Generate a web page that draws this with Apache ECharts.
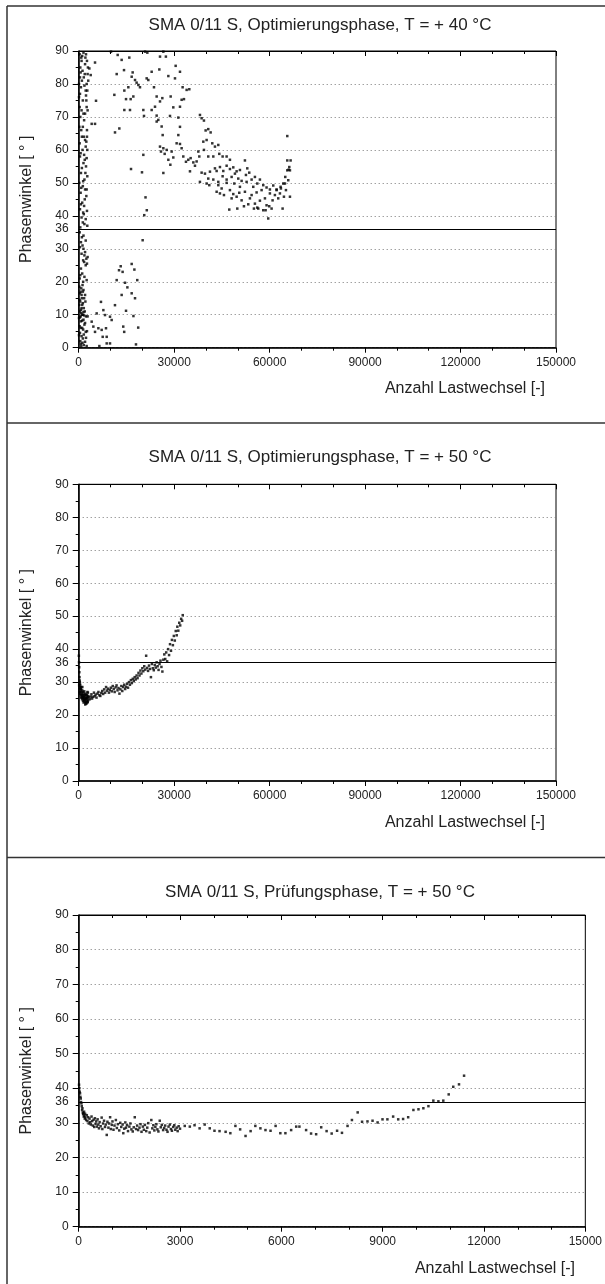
<!DOCTYPE html>
<html><head><meta charset="utf-8">
<script src="https://cdn.jsdelivr.net/npm/echarts@6/dist/echarts.min.js"></script>
<style>html,body{margin:0;padding:0;background:#fff}#c{width:605px;height:1284px}</style>
</head><body><div id="c"></div>
<script>
// ---------- DATA ----------
const titles = [
  'SMA 0/11 S, Optimierungsphase, T = + 40 °C',
  'SMA 0/11 S, Optimierungsphase, T = + 50 °C',
  'SMA 0/11 S, Prüfungsphase, T = + 50 °C'
];
const yAxisName = 'Phasenwinkel [ ° ]';
const xAxisName = 'Anzahl Lastwechsel [-]';
const limitAngle = 36;
const xMax = [150000, 150000, 15000];
const xStep = [30000, 30000, 3000];
const yMax = 90;
const yStep = 10;

// Optimierungsphase, T = +40 °C  [Lastwechsel, Phasenwinkel]
const opt40 = [
  [300,89],[800,88],[1500,89.5],[2300,89],[2600,87],[500,85],[1200,84],[2000,86],[2900,85],[400,82],
  [1600,82],[2500,80],[3000,81],[700,79],[2200,78],[2700,78],[100,76],[1300,75],[300,73],[2500,73],
  [2800,72],[500,70],[1700,69],[200,67],[2600,66],[1000,64],[1600,64],[2600,64],[300,62],[2200,61],
  [1200,60],[2700,60],[400,58],[1900,57],[1500,56],[2300,55],[700,53],[2700,52],[1800,51],[200,50],
  [1300,49],[2000,48],[600,47],[2400,46],[1100,44],[1700,43],[400,42],[1400,41],[1600,40.5],[2200,39],
  [1300,38],[2700,37],[500,36.5],[900,87],[1900,83],[100,80],[2400,75],[1500,71],[800,66],[2000,63],
  [1100,88.5],[2100,88],[600,83.5],[2800,83],[1000,81],[1800,79.5],[400,77],[2300,76.5],[900,72],[2000,71],
  [1300,67],[2400,62.5],[600,59],[1700,58.5],[2500,57.5],[1000,54.5],[2100,53],[1400,50.5],[800,48.5],[2500,48],
  [1900,45],[700,43.5],[2600,41.5],[900,39.5],[1800,37.5],
  [5130,86.5],[5440,74.9],[4080,67.9],[5130,67.9],[3350,84.7],[3770,82.7],
  [1000,33.5],[700,32],[1200,31],[1500,30],[2000,29],[1800,28],[2400,27],[2800,27.5],[2600,25.5],[1700,26],
  [2500,20.5],[500,22],[300,21],[1200,19],[800,18],[1300,17],[400,16.5],[2000,16],[1000,15],[500,14],
  [1300,13.5],[200,13],[900,12],[1600,12],[400,11],[800,10.5],[1000,10],[1300,10],[600,9.5],[2300,9.5],
  [2800,9.5],[100,9],[1500,8.5],[700,8],[1800,7],[300,6.5],[1100,6],[2600,5],[400,4.5],[1600,4],
  [900,3.5],[2300,3],[500,2],[1200,1.5],[2500,0.5],[800,0.5],[1900,11],[2100,14],[600,17],[1400,20],
  [300,35],[1500,34],[2200,32.5],[400,30.5],[900,28.5],[1400,26.5],[2200,25],[700,24],[1100,22.5],[1800,21.5],
  [200,18.5],[1500,17.5],[900,16],[1700,15],[300,14.5],[1100,13],[700,11.5],[1500,10.8],[1700,9.8],[400,9.2],
  [1100,8.2],[2000,7.5],[600,6],[1400,5.5],[2200,4.8],[100,3.8],[1300,2.8],[2000,1.8],[700,1.2],[1600,0.8],
  [7000,13.9],[5650,10.4],[7750,11.4],[8270,9.9],[11400,12.9],[9840,9.4],[10360,8.4],[8580,5.9],[7220,5.4],[6180,5.9],
  [4600,6.4],[4080,7.9],[5130,4.8],[7540,3.3],[8800,3.3],[6490,0.5],[8800,1.3],[9840,1.3],[11940,20.5],[12670,23.5],
  [13200,24.7],[13800,23],[13500,16],[14550,19.7],[15300,18.3],[16650,25.4],[17500,23.7],[18400,20.5],[16650,16.5],[17700,15],
  [14870,11.2],[14000,6.4],[14300,4.8],[17200,9.6],[18700,6.1],[18000,1],[20100,32.6],[21000,45.6],[21400,41.7],[20600,40.2],
  [10150,89.8],[12250,88.8],[13500,87.3],[15900,88],[11940,83],[14240,84.2],[16960,83.5],[16650,82.2],[17700,81.2],[18200,80.4],
  [18740,79.7],[19260,79],[15600,79],[14340,78],[11200,76.7],[14870,75.4],[16330,75.4],[17170,76.2],[14340,72.1],[16120,72.1],
  [11410,65.3],[12770,66.5],[20310,72.1],[20520,70.3],[20310,58.5],[16440,54.2],[19890,53.2],[20840,89.8],[21570,89.5],[26600,89.8],
  [27400,88.3],[25550,88.3],[30470,85.5],[30260,81.7],[31830,83.7],[32660,79],[33920,78.2],[34760,78.4],[32350,75.2],[33080,75.4],
  [31830,73.1],[29730,72.9],[28690,70.3],[25550,74.7],[26280,75.7],[23980,73.1],[22930,72.1],[24500,70.4],[21360,81.7],[21880,81.2],
  [22930,83.7],[25340,84.4],[23660,79],[24500,76.2],[28170,82.4],[28900,76.2],[25020,69.1],[26070,67.1],[24500,68.6],[26390,64.5],
  [25550,61],[26600,60.5],[27650,60],[25860,59.5],[27020,58.8],[29210,59.5],[28170,57],[28800,55.5],[29730,57.7],[26600,53],
  [30780,62],[31830,61.8],[32350,60.5],[31310,64.5],[31830,67],[31310,69.8],[32870,58],[33710,56.4],[34440,57],[35180,57.5],
  [36020,56.2],[37060,56.5],[37900,58],[37590,59.5],[36540,55.2],[34970,53.5],[38110,70.6],[38630,69.6],[39360,68.9],[39890,65.9],
  [40720,66.3],[41460,65.3],[40200,63],[41980,62],[39160,62.5],[39360,60],[40720,58],[42300,58],[42820,61],[43870,61.5],
  [44180,58.8],[45230,58],[46490,58],[47530,57],[38630,53.1],[39680,52.8],[41250,53.4],[42820,54.4],[43350,53.6],[44390,54.8],
  [45440,53.6],[46490,55.2],[47530,54.2],[48580,54.7],[49630,53.5],[50670,53.9],[52240,56.8],[52980,54.4],[40720,51.3],[42300,51],
  [43870,50.3],[45230,52],[46490,51],[48060,51.8],[49100,52.8],[50150,51.3],[51200,50.6],[52560,52.4],[53600,53.1],[54340,51],
  [55380,51.8],[56120,49.8],[56950,51],[58000,49.3],[59040,48.6],[60090,48],[61140,49.2],[62190,48],[63450,48.8],[64290,49.8],
  [64920,51.8],[65550,53.8],[66180,54.8],[66600,56.8],[65550,56.8],[65970,54],[66390,53.8],[65550,64.2],
  [38100,50.3],[40200,49.8],[41040,49.3],[44390,46.8],[44920,48.3],[45650,46.3],[46490,50],[47530,47.8],[48060,45.3],[48580,46.6],
  [49630,45.8],[49840,42.2],[50670,48.8],[51200,44.7],[52240,47.3],[52770,50.3],[53290,43.5],[53810,45.3],[54340,46.3],[54860,48.8],
  [55380,43.7],[55910,47.1],[56430,42.2],[56950,44.6],[57480,47.8],[58000,41.7],[58530,45.3],[59040,43.2],[59560,39.2],[60090,46.8],
  [60620,42.2],[60930,44.7],[61660,46.3],[62190,47.8],[62710,45.3],[63240,46.8],[63550,48.3],[64080,42.2],[64500,45.8],[65130,47.8],
  [66390,45.8],[64810,49.8],[65860,50.8],[47320,41.9],[51930,42.9],[43350,47.3],[43870,49.3],[48900,49.8],[50460,47],[55070,42.2],
  [56120,42.5],[58740,41.7],[59880,42.9]
];

// Optimierungsphase, T = +50 °C
const opt50 = [
  [50,38],[100,36],[150,34.5],[200,33],[250,31.5],[300,30.5],[350,30],[400,29.5],[450,29],[500,28.5],
  [600,28],[700,27.8],[800,28.5],[900,27],[1000,26.5],[1100,27.5],[1200,26],[1300,25.5],[1400,27],[1500,25],
  [1600,26.5],[1700,24.5],[1800,25.8],[1900,24],[2000,26],[2100,25],[2200,23.5],[2300,24.8],[2400,26.2],[2500,25.5],
  [2600,24.2],[2700,23.8],[2800,25.2],[2900,26.8],[3000,24.5],[150,29],[250,28],[350,27],[450,26.5],[550,27.2],
  [650,26],[750,25.3],[850,26.2],[950,25.5],[1050,24.8],[1150,28.5],[1250,25.2],[1350,24.3],[1450,26],[1550,23.8],
  [1650,25.4],[1750,27.2],[1850,25],[1950,24.6],[2050,23.2],[2150,26.5],[2250,25.1],[2350,24],[2450,23.5],[2550,26],
  [2650,25],[2750,27],[2850,24],[2950,25.8],
  [3200,25.5],[3500,24.8],[3800,25.6],[4000,26.3],[4200,25],[4500,25.5],[4800,26.8],[5000,25.7],[5300,26.2],[5600,25.3],
  [5900,26.5],[6200,27],[6500,26],[6800,25.8],[7100,26.7],[7400,27.3],[7700,26.4],[8000,27.8],[8300,26.8],[8600,28.5],
  [8900,27.4],[9200,28],[9500,26.8],[9800,27.6],[10100,28.3],[10400,27.2],[10700,28.8],[11000,27.9],[11300,27],[11600,28.4],
  [11900,29],[12200,27.5],[12500,28.2],[12800,26.5],[13100,27.8],[13400,28.8],[13700,27.3],[14000,28.5],[14300,29.2],[14600,27.9],
  [14900,28.6],[15200,29.5],[15500,28.3],[15800,30],[16100,29.2],[16400,30.6],[16700,29.7],[17000,31],[17300,30.3],[17600,31.5],
  [17900,30.8],[18200,32],[18500,31.2],[18800,32.8],[19100,32],[19400,33.5],[19700,32.6],[20000,34.2],[20300,33.3],[20600,34.8],
  [20900,33.8],[21200,38],[21500,34.3],[21800,33.4],[22100,35],[22400,34],[22700,31.5],[23000,35.5],[23300,34.2],[23600,33.6],
  [23900,35.2],[24200,34.4],[24500,36],[24800,34.8],[25100,33.7],[25400,35.5],[25700,36.5],[26000,34.6],[26300,33.2],[26600,36.8],
  [26900,38.4],[27200,37],[27500,39],[27800,36.3],[28100,40],[28400,38.2],[28700,41.5],[29000,39.5],[29300,42.8],[29600,41.2],
  [29900,44],[30200,42.6],[30500,45.5],[30800,44.2],[31000,46.8],[31300,45.6],[31600,48],[31900,47.2],[32200,49.2],[32500,48.6],
  [32700,50.3]
];

// Prüfungsphase, T = +50 °C
const test50 = [
  [10,41],[20,40],[30,39],[40,38.5],[50,37.5],[60,37],[70,36],[80,35.6],[90,34.8],[100,33.7],
  [110,34.2],[120,33],[130,32.5],[140,32.7],[150,31.8],[160,33.2],[170,32],[180,31.2],[190,32.6],[200,31.5],
  [220,30.8],[240,32.2],[260,30.5],[280,31.6],[300,29.8],[320,31.2],[340,30.2],[360,29.5],[380,31.8],[400,30.5],
  [420,29.2],[440,30.9],[460,28.8],[480,31.3],[500,29.7],[520,30.4],[540,28.9],[560,31],[580,29.5],[600,28.4],
  [620,30.2],[650,29],[680,31.5],[700,28.2],[720,29.8],[750,30.6],[780,28.8],[800,29.5],[830,26.5],[850,30.3],
  [880,28.6],[900,29.8],[930,31.6],[950,28.2],[980,29.4],[1000,30.4],[1030,28],[1060,29.2],[1100,30.8],[1130,28.5],
  [1160,29.6],[1200,27.8],[1230,30],[1260,28.8],[1300,29.5],[1320,27],[1350,28.3],[1380,30.1],[1400,28.6],[1430,29.3],
  [1460,27.6],[1500,28.9],[1530,29.8],[1560,28.1],[1600,27.5],[1630,28.7],[1660,31.6],[1700,28.2],[1730,29.2],[1760,27.9],
  [1800,28.6],[1830,29.6],[1860,27.4],[1900,28.9],[1930,28],[1960,29.4],[2000,27.6],[2030,28.6],[2060,29.9],[2100,27.2],
  [2150,30.8],[2180,28.4],[2210,29.3],[2240,27.8],[2270,28.8],[2300,29.6],[2330,28.1],[2360,27.5],[2400,30.6],[2430,28.7],
  [2460,29.4],[2500,27.9],[2530,28.5],[2560,29.2],[2600,28],[2630,27.4],[2660,28.9],[2700,29.5],[2730,28.2],[2760,27.7],
  [2800,28.8],[2830,29.3],[2860,28],[2900,28.6],[2930,27.6],[2960,29],[3000,28.3],
  [3140,29.1],[3290,28.9],[3430,29.3],[3580,28.4],[3730,29.5],[3880,28.4],[4020,27.7],[4170,27.6],[4350,27.4],[4490,27],
  [4640,29.1],[4780,28.1],[4940,26.2],[5090,27.6],[5230,29.1],[5380,28.4],[5530,27.9],[5680,27.7],[5830,29.1],[5970,27],
  [6120,27],[6290,27.9],[6440,28.9],[6535,28.9],[6733,27.9],[6880,26.9],[7030,26.7],[7180,28.7],[7340,27.6],[7490,26.9],
  [7650,27.7],[7795,27.1],[7960,29.1],[8090,30.8],[8260,33],[8390,30.3],[8550,30.4],[8700,30.6],[8850,30.1],[8995,31],
  [9140,31],[9310,31.8],[9460,31],[9605,31.1],[9755,31.6],[9910,33.7],[10060,33.9],[10205,34.2],[10355,34.8],[10500,36.4],
  [10650,36.2],[10795,36.4],[10955,38.2],[11090,40.4],[11260,41.1],[11410,43.6]
];

// ---------- LAYOUT ----------
const FONT = '"Liberation Sans", Arial, Helvetica, sans-serif';
const grids = [
  {left: 78.7, top: 51, width: 477.3, height: 296.7},
  {left: 78.7, top: 484.3, width: 477.3, height: 296.7},
  {left: 78.7, top: 915, width: 508, height: 311.7}
];
const titlePos = [[320, 25.5], [320, 457.5], [320, 892.5]];
const xNamePos = [[545, 389], [545, 822.5], [575, 1269]];
const seriesData = [opt40, opt50, test50];

const xAxes = [], yAxes = [], series = [], graphics = [];
grids.forEach((g, i) => {
  xAxes.push({
    gridIndex: i, type: 'value', min: 0, max: xMax[i], interval: xStep[i], position: 'bottom',
    axisLine: {onZero: false, lineStyle: {color: '#000', width: 1.5}},
    axisTick: {inside: false, length: 5, lineStyle: {color: '#000', width: 1}},
    minorTick: {show: true, splitNumber: 3, length: 3, lineStyle: {color: '#000', width: 1}},
    axisLabel: {color: '#222', fontSize: 12, margin: 9, fontFamily: FONT, formatter: v => String(v)},
    splitLine: {show: false}
  });
  xAxes.push({
    gridIndex: i, type: 'value', min: 0, max: xMax[i], interval: xStep[i], position: 'top',
    axisLine: {onZero: false, lineStyle: {color: '#000', width: 1}},
    axisTick: {inside: true, length: 5, lineStyle: {color: '#000', width: 1}},
    minorTick: {show: true, splitNumber: 3, length: 3, lineStyle: {color: '#000', width: 1}},
    axisLabel: {show: false},
    splitLine: {show: false}
  });
  yAxes.push({
    gridIndex: i, type: 'value', min: 0, max: yMax, interval: yStep,
    axisLine: {show: true, lineStyle: {color: '#000', width: 1.5}},
    axisTick: {show: true, length: 6, lineStyle: {color: '#000', width: 1}},
    minorTick: {show: true, splitNumber: 2, length: 3, lineStyle: {color: '#000', width: 1}},
    splitLine: {show: true, lineStyle: {type: [1, 3], color: '#777', width: 1}},
    axisLabel: {color: '#222', fontSize: 12, margin: 10, fontFamily: FONT},
    name: yAxisName, nameLocation: 'middle', nameGap: 44,
    nameTextStyle: {fontSize: 16, color: '#222', fontFamily: FONT}
  });
  series.push({
    type: 'scatter', xAxisIndex: 2 * i, yAxisIndex: i, data: seriesData[i],
    symbol: 'rect', symbolSize: 2.5, itemStyle: {color: '#000'},
    markLine: {
      silent: true, symbol: ['none', 'none'], animation: false,
      data: [{yAxis: limitAngle}],
      lineStyle: {color: '#000', type: 'solid', width: 1.2},
      label: {position: 'start', formatter: String(limitAngle), color: '#222', fontSize: 12, distance: 10, fontFamily: FONT}
    }
  });
  graphics.push({
    type: 'text', x: titlePos[i][0], y: titlePos[i][1],
    style: {text: titles[i], fill: '#222', font: '17px ' + FONT, align: 'center', verticalAlign: 'middle', textAlign: 'center', textVerticalAlign: 'middle'}
  });
  graphics.push({
    type: 'text', x: xNamePos[i][0], y: xNamePos[i][1],
    style: {text: xAxisName, fill: '#222', font: '16px ' + FONT, align: 'right', verticalAlign: 'middle', textAlign: 'right', textVerticalAlign: 'middle'}
  });
});
// figure frame lines
const frameStyle = {stroke: '#333', lineWidth: 1.5};
graphics.push({type: 'line', shape: {x1: 7, y1: 6, x2: 7, y2: 1284}, style: frameStyle});
graphics.push({type: 'line', shape: {x1: 7, y1: 6, x2: 605, y2: 6}, style: frameStyle});
graphics.push({type: 'line', shape: {x1: 7, y1: 423, x2: 605, y2: 423}, style: frameStyle});
graphics.push({type: 'line', shape: {x1: 7, y1: 857.5, x2: 605, y2: 857.5}, style: frameStyle});

const chart = echarts.init(document.getElementById('c'), null, {renderer: 'canvas'});
chart.setOption({
  animation: false,
  backgroundColor: '#fff',
  textStyle: {fontFamily: FONT},
  grid: grids.map(g => Object.assign({show: true, borderColor: '#000', borderWidth: 1, backgroundColor: 'transparent'}, g)),
  xAxis: xAxes,
  yAxis: yAxes,
  series: series,
  graphic: graphics
});
</script></body></html>
